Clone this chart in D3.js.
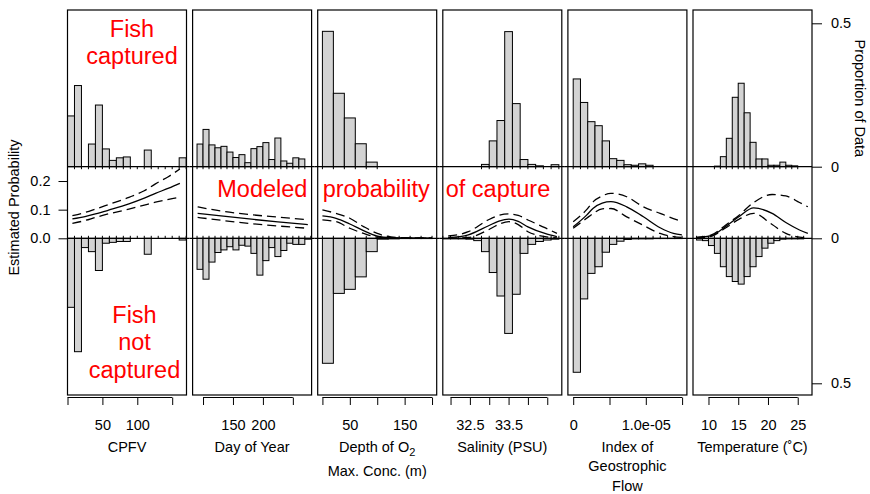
<!DOCTYPE html>
<html>
<head>
<meta charset="utf-8">
<script src="https://cdn.jsdelivr.net/npm/d3@7"></script>
<style>
body { margin: 0; background: #fff; }
svg { display: block; font-family: "Liberation Sans", Arial, Helvetica, sans-serif; }
</style>
</head>
<body>
<script>
// values
var axisTitles = [["CPFV"], ["Day of Year"], ["Depth of O_2", "Max. Conc. (m)"], ["Salinity (PSU)"], ["Index of", "Geostrophic", "Flow"], ["Temperature (\u02DAC)"]];

var xDomains = [[0, 170.5], [82.6, 281.3], [-8.6, 208.5], [31.8, 34.876], [-0.73e-6, 15.66e-6], [7.4, 27.4]];
var xTicks = [[0, 50, 100, 150], [100, 150, 200, 250], [0, 50, 100, 150, 200], [32, 32.5, 33, 33.5, 34, 34.5], [0, 5e-6, 1e-5, 1.5e-5], [10, 15, 20, 25]];
var xTickLabels = [["", "50", "100", ""], ["", "150", "200", ""], ["", "50", "", "150", ""], ["", "32.5", "", "33.5", "", ""], ["0", "", "1.0e-05", ""], ["10", "15", "20", "25"]];

// histogram bins: start of first bin and bin width
var binStep = [10, 10, 20, 0.2, 1e-6, 1];
var topStart = [0, 90, 0, 32.8, 0, 11];
var bottomStart = [0, 90, 0, 31.8, 0, 8];

// proportion of data, fish captured (top) and not captured (bottom)
var cpfvTop = [0.177, 0.283, 0, 0.079, 0.215, 0.062, 0.022, 0.031, 0.034, 0, 0, 0.058, 0, 0, 0, 0, 0.031];
var cpfvBottom = [0.238, 0.391, 0.032, 0.046, 0.111, 0.017, 0.014, 0.011, 0.011, 0, 0, 0.055, 0, 0, 0, 0, 0.006];
var dayTop = [0.079, 0.130, 0.076, 0.066, 0.071, 0.051, 0.032, 0.042, 0.014, 0.063, 0.070, 0.084, 0.025, 0.100, 0.020, 0.012, 0.031, 0.027];
var dayBottom = [0.107, 0.141, 0.082, 0.049, 0.040, 0.029, 0.040, 0.024, 0.027, 0.052, 0.127, 0.077, 0.032, 0.063, 0.042, 0.017, 0.021, 0.021, 0.003];
var depthTop = [0.472, 0.256, 0.170, 0.080, 0.016];
var depthBottom = [0.431, 0.190, 0.176, 0.133, 0.046, 0.003, 0.002, 0.001, 0.001, 0.001];
var salTop = [0.008, 0.090, 0.161, 0.471, 0.220, 0.025, 0.008, 0.003, 0, 0.007];
var salBottom = [0.002, 0.002, 0.002, 0.003, 0.008, 0.046, 0.118, 0.199, 0.328, 0.193, 0.052, 0.021, 0.011, 0.006, 0.003];
var geoTop = [0.306, 0.224, 0.157, 0.143, 0.090, 0.028, 0.022, 0.007, 0.005, 0.010, 0.005];
var geoBottom = [0.462, 0.209, 0.121, 0.098, 0.048, 0.021, 0.010, 0.004, 0.002, 0.002, 0.002, 0.001, 0.001, 0.001, 0.001];
var tempTop = [0.002, 0.035, 0.099, 0.242, 0.291, 0.188, 0.085, 0.027, 0.027, 0.005, 0.005, 0.016, 0.005, 0.003];
var tempBottom = [0.006, 0.008, 0.025, 0.052, 0.098, 0.132, 0.149, 0.158, 0.132, 0.098, 0.063, 0.034, 0.017, 0.008, 0.003, 0.002, 0.002, 0.002];

// modeled probability of capture: fit and dashed bounds
var cpfvX = [7, 25, 40, 60, 88, 110, 126, 145, 161];
var cpfvFit = [0.068, 0.076, 0.085, 0.099, 0.12, 0.14, 0.157, 0.175, 0.192];
var cpfvUpper = [0.079, 0.09, 0.102, 0.119, 0.143, 0.166, 0.19, 0.216, 0.242];
var cpfvLower = [0.052, 0.062, 0.073, 0.086, 0.102, 0.116, 0.126, 0.136, 0.143];

var dayX = [91, 130, 177, 225, 275];
var dayFit = [0.087, 0.078, 0.0675, 0.057, 0.048];
var dayUpper = [0.11, 0.095, 0.083, 0.074, 0.065];
var dayLower = [0.073, 0.063, 0.052, 0.043, 0.035];

var depthX = [0, 25, 50, 75, 100, 125, 150, 200];
var depthFit = [0.078, 0.07, 0.05, 0.027, 0.008, 0.002, 0.001, 0.0005];
var depthUpper = [0.099, 0.087, 0.07, 0.041, 0.017, 0.005, 0.002, 0.001];
var depthLower = [0.064, 0.058, 0.035, 0.017, 0.004, 0.001, 0.0005, 0.0002];

var salX = [31.94, 32.46, 32.97, 33.25, 33.51, 33.75, 34.0, 34.44, 34.75];
var salFit = [0.002, 0.012, 0.043, 0.06, 0.067, 0.059, 0.04, 0.017, 0.006];
var salUpper = [0.008, 0.023, 0.064, 0.08, 0.085, 0.08, 0.064, 0.037, 0.017];
var salLower = [0.0005, 0.003, 0.029, 0.049, 0.058, 0.048, 0.023, 0.006, 0.001];

var geoX = [0, 1.85e-6, 2.76e-6, 4.0e-6, 5.2e-6, 7.37e-6, 9.67e-6, 11.97e-6, 13.8e-6, 14.97e-6];
var geoFit = [0.04, 0.081, 0.105, 0.123, 0.128, 0.11, 0.075, 0.037, 0.017, 0.0117];
var geoUpper = [0.058, 0.1, 0.128, 0.148, 0.157, 0.145, 0.11, 0.087, 0.069, 0.058];
var geoLower = [0.035, 0.07, 0.087, 0.103, 0.104, 0.075, 0.045, 0.017, 0.006, 0.003];

var tempX = [7.9, 10.6, 12.8, 15.1, 17.6, 20.7, 23, 25.3, 26.7];
var tempFit = [0.002, 0.01, 0.04, 0.075, 0.106, 0.087, 0.055, 0.029, 0.017];
var tempUpper = [0.003, 0.013, 0.045, 0.08, 0.125, 0.153, 0.148, 0.125, 0.11];
var tempLower = [0.001, 0.008, 0.035, 0.066, 0.087, 0.048, 0.017, 0.004, 0.002];

var topHists = [cpfvTop, dayTop, depthTop, salTop, geoTop, tempTop];
var bottomHists = [cpfvBottom, dayBottom, depthBottom, salBottom, geoBottom, tempBottom];
var curveX = [cpfvX, dayX, depthX, salX, geoX, tempX];
var curveFit = [cpfvFit, dayFit, depthFit, salFit, geoFit, tempFit];
var curveUpper = [cpfvUpper, dayUpper, depthUpper, salUpper, geoUpper, tempUpper];
var curveLower = [cpfvLower, dayLower, depthLower, salLower, geoLower, tempLower];

var probTicks = [0, 0.1, 0.2];
var propTicks = [0, 0.5];
var propTickLabels = ["0", "0.5"];

// layout
var W = 870, H = 494;
var panelLeft0 = 67.5, panelStep = 125.1, panelWidth = 119;
var plotTop = 10, plotBottom = 395;
var fontSize = 14.5;

var svg = d3.select("body").append("svg").attr("width", W).attr("height", H);
svg.append("rect").attr("width", W).attr("height", H).attr("fill", "#fff");

var yTop = d3.scaleLinear().domain([0, 0.5]).range([166.7, 23.3]);
var yBottom = d3.scaleLinear().domain([0, 0.5]).range([238.3, 383.3]);
var yProb = d3.scaleLinear().domain([0, 0.25]).range([238.3, 166.7]);

function drawHist(g, x, values, start, step, yScale, dir) {
    var base = yScale(0);
    values.forEach(function (p, j) {
        var x0 = x(start + j * step), x1 = x(start + (j + 1) * step);
        if (p > 0) {
            var yv = yScale(p);
            g.append("rect")
                .attr("x", x0).attr("width", x1 - x0)
                .attr("y", Math.min(yv, base)).attr("height", Math.abs(yv - base))
                .attr("fill", "#d3d3d3").attr("stroke", "#000").attr("stroke-width", 1);
        }
    });
    // little marks at the bin breaks, pointing into the middle strip
    for (var k = 0; k <= values.length; k++) {
        var xb = x(start + k * step);
        g.append("line").attr("x1", xb).attr("x2", xb)
            .attr("y1", base).attr("y2", base + dir * 2.5)
            .attr("stroke", "#000").attr("stroke-width", 1);
    }
}

for (var i = 0; i < 6; i++) {
    var left = panelLeft0 + i * panelStep, right = left + panelWidth;
    var x = d3.scaleLinear().domain(xDomains[i]).range([left, right]);
    var g = svg.append("g");

    drawHist(g, x, topHists[i], topStart[i], binStep[i], yTop, 1);
    drawHist(g, x, bottomHists[i], bottomStart[i], binStep[i], yBottom, -1);

    var ext0 = i > 0 ? 3.05 : 0, ext1 = i < 5 ? 3.05 : 0;
    [yTop(0), yBottom(0)].forEach(function (yb) {
        g.append("line").attr("x1", left - ext0).attr("x2", right + ext1)
            .attr("y1", yb).attr("y2", yb)
            .attr("stroke", "#000").attr("stroke-width", 1.2);
    });

    var line = d3.line()
        .x(function (d) { return x(d[0]); })
        .y(function (d) { return yProb(d[1]); })
        .curve(d3.curveMonotoneX);
    var xs = curveX[i];
    [[curveUpper[i], "9,5"], [curveLower[i], "9,5"], [curveFit[i], null]].forEach(function (c) {
        var pts = xs.map(function (v, k) { return [v, c[0][k]]; });
        var path = g.append("path").attr("d", line(pts))
            .attr("fill", "none").attr("stroke", "#000").attr("stroke-width", 1.3);
        if (c[1]) path.attr("stroke-dasharray", c[1]);
    });

    g.append("rect").attr("x", left).attr("y", plotTop)
        .attr("width", panelWidth).attr("height", plotBottom - plotTop)
        .attr("fill", "none").attr("stroke", "#000").attr("stroke-width", 1.2);

    // x axis
    var labels = xTickLabels[i];
    var ticks = xTicks[i];
    var ax = d3.axisBottom(x).tickValues(ticks)
        .tickFormat(function (d, k) { return labels[k]; })
        .tickSize(7.5).tickPadding(14.7);
    var axg = g.append("g").attr("transform", "translate(0,397.5)").call(ax);
    axg.attr("font-size", fontSize).attr("font-family", null);
    axg.select(".domain").attr("d", "M" + x(ticks[0]) + ",0H" + x(ticks[ticks.length - 1]));

    // axis title
    var cx = left + panelWidth / 2;
    var gap = i === 2 ? 23.8 : 19.6;
    axisTitles[i].forEach(function (t, k) {
        var txt = g.append("text").attr("x", cx).attr("y", 451.7 + k * gap)
            .attr("text-anchor", "middle").attr("font-size", fontSize).attr("fill", "#000");
        var parts = t.split("_");
        txt.append("tspan").text(parts[0]);
        if (parts.length > 1) {
            txt.append("tspan").attr("font-size", 11).attr("dy", 4.5).text(parts[1]);
        }
    });

    if (i === 0) {
        var lax = d3.axisLeft(yProb).tickValues(probTicks).tickFormat(d3.format(".1f"))
            .tickSize(9).tickPadding(8);
        var lg = g.append("g").attr("transform", "translate(" + left + ",0)").call(lax);
        lg.attr("font-size", fontSize).attr("font-family", null);
        lg.select(".domain").attr("d", "M0," + yProb(0) + "V" + yProb(0.2));
    }
    if (i === 5) {
        [yTop, yBottom].forEach(function (ys) {
            var rax = d3.axisRight(ys).tickValues(propTicks)
                .tickFormat(function (d, k) { return propTickLabels[k]; })
                .tickSize(10).tickPadding(9);
            var rg = g.append("g").attr("transform", "translate(" + right + ",0)").call(rax);
            rg.attr("font-size", fontSize).attr("font-family", null);
            rg.select(".domain").remove();
        });
    }
}

svg.append("text").attr("transform", "translate(18.5,207.5) rotate(-90)")
    .attr("text-anchor", "middle").attr("font-size", fontSize).text("Estimated Probability");
svg.append("text").attr("transform", "translate(855,98.3) rotate(90)")
    .attr("text-anchor", "middle").attr("font-size", fontSize).text("Proportion of Data");

// red annotations
var red = "#ff0000", redSize = 23.5;
[["Fish", 36.7], ["captured", 64.3]].forEach(function (t) {
    svg.append("text").attr("x", 132).attr("y", t[1]).attr("text-anchor", "middle")
        .attr("font-size", redSize).attr("fill", red).text(t[0]);
});
[["Fish", 322.7], ["not", 350.4], ["captured", 378.2]].forEach(function (t) {
    svg.append("text").attr("x", 134.5).attr("y", t[1]).attr("text-anchor", "middle")
        .attr("font-size", redSize).attr("fill", red).text(t[0]);
});
[["Modeled", 217.3], ["probability", 322.7], ["of capture", 445.7]].forEach(function (t) {
    svg.append("text").attr("x", t[1]).attr("y", 196.7)
        .attr("font-size", redSize).attr("fill", red).text(t[0]);
});
</script>
</body>
</html>
